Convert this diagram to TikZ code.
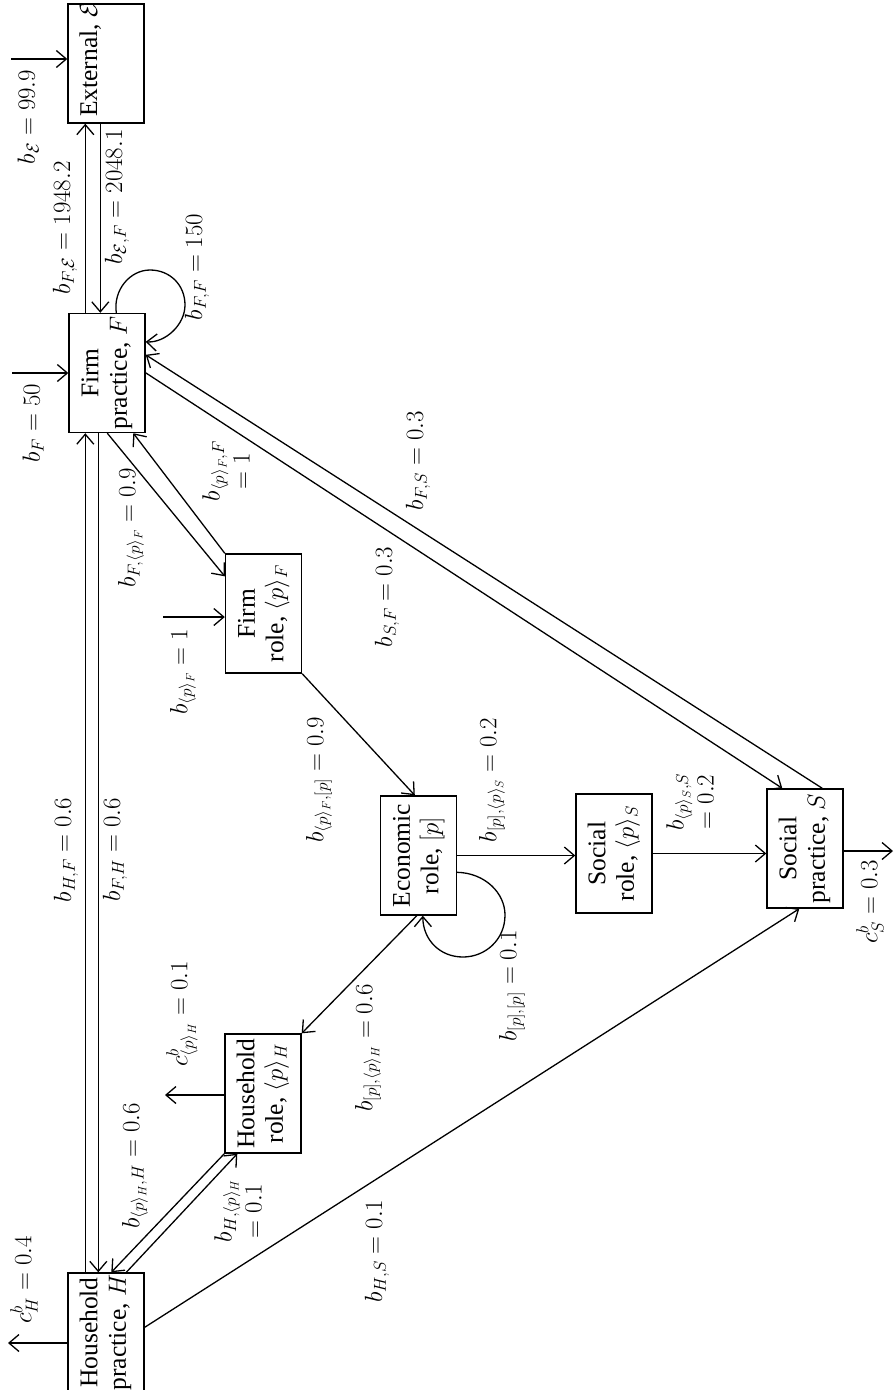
\documentclass[tikz,border=0pt]{standalone}
\usepackage{fontspec}
\setmainfont{Liberation Serif}
\usepackage{graphicx}
\usetikzlibrary{arrows.meta,calc}
\newcommand\rbox[1]{\rotatebox{90}{\begin{tabular}{@{}c@{}}#1\end{tabular}}}
\begin{document}
\begin{tikzpicture}[x=1pt,y=-1pt,
  font=\fontsize{25.5}{28.5}\selectfont,
  box/.style={draw, line width=1.4pt, inner sep=0pt, minimum width=76pt, minimum height=119pt},
  lab/.style={rotate=90, inner sep=0pt, align=center, font=\fontsize{26}{30}\selectfont},
  arr/.style={line width=1.3pt, -{Straight Barb[length=10pt,width=17pt,line width=1.3pt]}},
  ln/.style={line width=1.3pt}]
\useasboundingbox (0,0) rectangle (895,1390);

% boxes
\node[box] (E) at (106,63.5) {};
\node[rotate=90, anchor=base west, inner sep=0pt] (Et) at (97,117) {External, $\mathcal{E}$};
\node[box] (F) at (107,373) {\rbox{Firm\\practice, $F$}};
\node[box] (Fr) at (263.5,613.5) {\rbox{Firm\\role, $\langle p\rangle_F$}};
\node[box] (Ec) at (418.5,855.5) {\rbox{Economic\\role, $[p]$}};
\node[box] (Sr) at (614,853.5) {\rbox{Social\\role, $\langle p\rangle_S$}};
\node[box] (S) at (805,848.5) {\rbox{Social\\practice, $S$}};
\node[box] (Hr) at (263,1093.5) {\rbox{Household\\role, $\langle p\rangle_H$}};
\node[box] (H) at (106,1332.5) {\rbox{Household\\practice, $H$}};

% free ends
\coordinate (bEin) at (11,59);
\coordinate (bFin) at (12,373);
\coordinate (bFrin) at (163,617);
\coordinate (Sout) at (893,851);
\coordinate (Hrout) at (165,1095);
\coordinate (Hout) at (8,1343);

% inputs / outputs
\draw[arr] (bEin) -- (bEin -| E.west);
\draw[arr] (bFin) -- (bFin -| F.west);
\draw[arr] (bFrin) -- (bFrin -| Fr.west);
\draw[arr] (Sout -| S.east) -- (Sout);
\draw[arr] (Hrout -| Hr.west) -- (Hrout);
\draw[arr] (Hout -| H.west) -- (Hout);

% E <-> F
\draw[arr] ($(F.north west)+(17,0)$) coordinate (p1) -- (p1 |- E.south);
\draw[arr] ($(E.south west)+(33,0)$) coordinate (p2) -- (p2 |- F.north);
% F self loop
\draw[arr] ($(F.north west)+(48,0)$) .. controls (113,290) and (130,270) .. (150,270)
  .. controls (170,270) and (185,285) .. (185,305)
  .. controls (185,325) and (165,343) .. ($(F.north east)+(0,29)$);
% F <-> Fr
\draw[arr] ($(F.south west)+(39,0)$) -- ($(Fr.north west)+(0,23)$);
\draw[arr] (Fr.north west) -- ($(F.south west)+(65,0)$);
% F <-> S
\draw[arr] ($(F.north east)+(0,60)$) -- ($(S.north west)+(16,0)$);
\draw[arr] ($(S.north west)+(56,0)$) -- ($(F.north east)+(0,42)$);
% Fr -> Ec
\draw[arr] (Fr.south east) -- ($(Ec.north west)+(35,0)$);
% Ec -> Sr
\draw[arr] (Ec.east) -- (Ec.east -| Sr.west);
% Ec self loop
\draw[arr] ($(Ec.north east)+(0,77)$) .. controls (485,873) and (505,893) .. (505,915)
  .. controls (505,940) and (485,957) .. (463,957)
  .. controls (440,957) and (423,940) .. ($(Ec.south west)+(43,0)$);
% Sr -> S
\draw[arr] (Sr.east) -- (Sr.east -| S.west);
% Ec -> Hr
\draw[arr] ($(Ec.south west)+(37,0)$) -- (Hr.north east);
% Hr <-> H
\draw[arr] (Hr.south west) -- ($(H.north west)+(44,0)$);
\draw[arr] ($(H.north west)+(59,0)$) -- ($(Hr.south west)+(13,0)$);
% H -> S
\draw[arr] ($(H.north east)+(0,55)$) -- ($(S.south west)+(33,0)$);
% H <-> F
\draw[arr] ($(H.north west)+(18,0)$) coordinate (p3) -- (p3 |- F.south);
\draw[arr] ($(F.south west)+(30,0)$) coordinate (p4) -- (p4 |- H.north);

% labels
\node[lab] (l1) at (28,117) {$b_{\mathcal{E}} = 99.9$};
\node[lab] (l2) at (65,228) {$b_{F,\mathcal{E}} = 1948.2$};
\node[lab] (l3) at (117,197) {$b_{\mathcal{E},F} = 2048.1$};
\node[lab] (l4) at (197,267) {$b_{F,F} = 150$};
\node[lab] (l5) at (33,423) {$b_F = 50$};
\node[lab] (l6) at (131,528) {$b_{F,\langle p\rangle_F} = 0.9$};
\node[lab] (l7) at (226,471) {$b_{\langle p\rangle_F,F}$\\$= 1$};
\node[lab] (l8) at (183,672) {$b_{\langle p\rangle_F} = 1$};
\node[lab] (l9) at (418,461) {$b_{F,S} = 0.3$};
\node[lab] (l10) at (387,597) {$b_{S,F} = 0.3$};
\node[lab] (l11) at (319,780) {$b_{\langle p\rangle_F,[p]} = 0.9$};
\node[lab] (l12) at (492,780) {$b_{[p],\langle p\rangle_S} = 0.2$};
\node[lab] (l13) at (512,986) {$b_{[p],[p]} = 0.1$};
\node[lab] (l14) at (690,802) {$b_{\langle p\rangle_S,S}$\\$= 0.2$};
\node[lab] (l15) at (870,902) {$c^b_S = 0.3$};
\node[lab] (l16) at (368,1048) {$b_{[p],\langle p\rangle_H} = 0.6$};
\node[lab] (l17) at (182,1014) {$c^b_{\langle p\rangle_H} = 0.1$};
\node[lab] (l18) at (135,1166) {$b_{\langle p\rangle_H,H} = 0.6$};
\node[lab] (l19) at (238,1211) {$b_{H,\langle p\rangle_H}$\\$= 0.1$};
\node[lab] (l20) at (377,1251) {$b_{H,S} = 0.1$};
\node[lab] (l21) at (24,1280) {$c^b_H = 0.4$};
\node[lab] (l22) at (66,850) {$b_{H,F} = 0.6$};
\node[lab] (l23) at (115,850) {$b_{F,H} = 0.6$};
\end{tikzpicture}
\end{document}
